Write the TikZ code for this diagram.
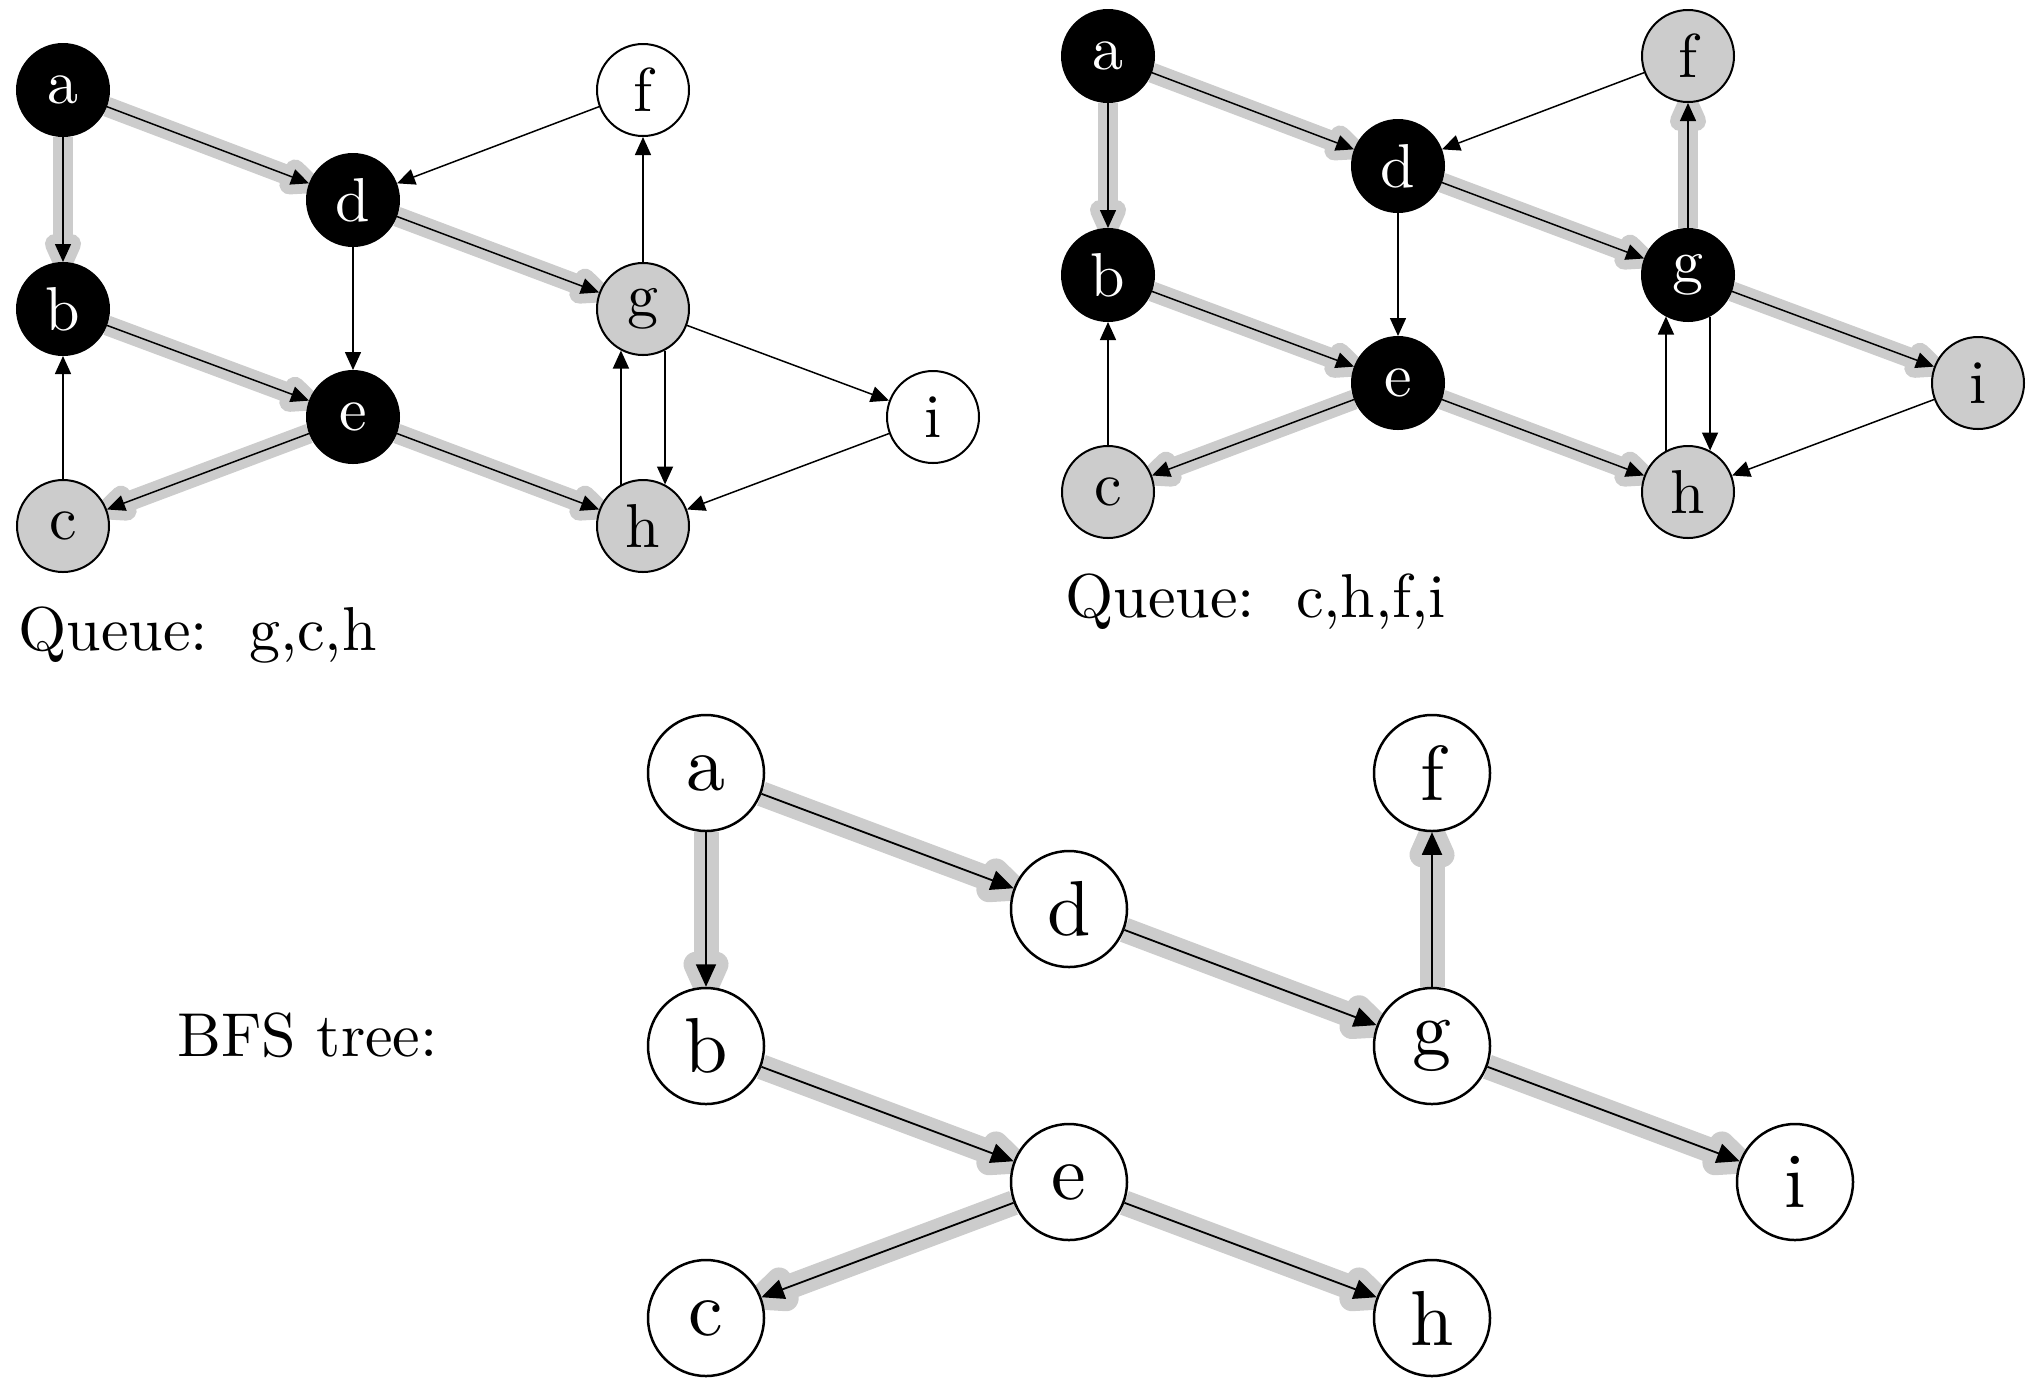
\documentclass[tikz,border=0pt]{standalone}
\usepackage{fontspec}
\setmainfont{lmroman10-regular}[Extension=.otf]
\usetikzlibrary{arrows.meta,decorations.markings}
\pgfdeclarelayer{bg}
\pgfsetlayers{bg,main}
\definecolor{hlgray}{RGB}{204,204,204}
\tikzset{
  vtx/.style={circle, draw, line width=1pt, inner sep=0pt, minimum size=46pt,
    font=\fontsize{31}{31}\selectfont},
  blk/.style={vtx, fill=black, text=white},
  gry/.style={vtx, fill=hlgray},
  wht/.style={vtx, fill=white},
  bigv/.style={line width=1.25pt, minimum size=58pt, font=\fontsize{39}{39}\selectfont},
  arr/.style={line width=0.75pt, -{Triangle[length=9pt,width=8pt]}},
  bigarr/.style={line width=0.9pt, -{Triangle[length=11.25pt,width=10pt]}},
  hl/.style={draw=hlgray, line width=10pt,
    postaction={decorate, decoration={markings, mark=at position 1 with {
      \filldraw[hlgray, line width=10pt, line join=round]
        (0,0) -- (-9pt,4pt) -- (-9pt,-4pt) -- cycle;}}}},
  bighl/.style={draw=hlgray, line width=12.5pt,
    postaction={decorate, decoration={markings, mark=at position 1 with {
      \filldraw[hlgray, line width=12.5pt, line join=round]
        (0,0) -- (-11.25pt,5pt) -- (-11.25pt,-5pt) -- cycle;}}}},
  lbl/.style={anchor=base west, inner sep=0pt, font=\fontsize{31}{31}\selectfont},
}
\begin{document}
\begin{tikzpicture}[x=0.5pt, y=-0.5pt]
\useasboundingbox (0,0) rectangle (2030,1378);

% ---- first snapshot ----
\node[blk] (a1) at (63,90)  {a};
\node[blk] (d1) at (353,200) {d};
\node[wht] (f1) at (643,90)  {f};
\node[blk] (b1) at (63,309) {b};
\node[blk] (e1) at (353,417) {e};
\node[gry] (g1) at (643,309) {g};
\node[wht] (i1) at (933,417) {i};
\node[gry] (c1) at (63,526) {c};
\node[gry] (h1) at (643,526) {h};
\node[lbl] (q1) at (18,650) {Queue:\ \ g,c,h};

\begin{pgfonlayer}{bg}
  \draw[hl] (a1) -- (d1);
  \draw[hl] (a1) -- (b1);
  \draw[hl] (d1) -- (g1);
  \draw[hl] (b1) -- (e1);
  \draw[hl] (e1) -- (c1);
  \draw[hl] (e1) -- (h1);
\end{pgfonlayer}
\draw[arr] (a1) -- (d1);
\draw[arr] (a1) -- (b1);
\draw[arr] (f1) -- (d1);
\draw[arr] (d1) -- (e1);
\draw[arr] (d1) -- (g1);
\draw[arr] (b1) -- (e1);
\draw[arr] (c1) -- (b1);
\draw[arr] (e1) -- (c1);
\draw[arr] (e1) -- (h1);
\draw[arr] (g1) -- (f1);
\draw[arr] (g1) -- (i1);
\draw[arr] (g1.-62) -- (h1.62);
\draw[arr] (h1.118) -- (g1.-118);
\draw[arr] (i1) -- (h1);

% ---- second snapshot ----
\node[blk] (a2) at (1108,56)  {a};
\node[blk] (d2) at (1398,166) {d};
\node[gry] (f2) at (1688,56)  {f};
\node[blk] (b2) at (1108,275) {b};
\node[blk] (e2) at (1398,383) {e};
\node[blk] (g2) at (1688,275) {g};
\node[gry] (i2) at (1978,383) {i};
\node[gry] (c2) at (1108,492) {c};
\node[gry] (h2) at (1688,492) {h};
\node[lbl] (q2) at (1065,617) {Queue:\ \ c,h,f,i};

\begin{pgfonlayer}{bg}
  \draw[hl] (a2) -- (d2);
  \draw[hl] (a2) -- (b2);
  \draw[hl] (d2) -- (g2);
  \draw[hl] (b2) -- (e2);
  \draw[hl] (e2) -- (c2);
  \draw[hl] (e2) -- (h2);
  \draw[hl] (g2) -- (f2);
  \draw[hl] (g2) -- (i2);
\end{pgfonlayer}
\draw[arr] (a2) -- (d2);
\draw[arr] (a2) -- (b2);
\draw[arr] (f2) -- (d2);
\draw[arr] (d2) -- (e2);
\draw[arr] (d2) -- (g2);
\draw[arr] (b2) -- (e2);
\draw[arr] (c2) -- (b2);
\draw[arr] (e2) -- (c2);
\draw[arr] (e2) -- (h2);
\draw[arr] (g2) -- (f2);
\draw[arr] (g2) -- (i2);
\draw[arr] (g2.-62) -- (h2.62);
\draw[arr] (h2.118) -- (g2.-118);
\draw[arr] (i2) -- (h2);

% ---- resulting tree ----
\node[wht,bigv] (a3) at (706,773)   {a};
\node[wht,bigv] (d3) at (1069,909)  {d};
\node[wht,bigv] (f3) at (1432,773)  {f};
\node[wht,bigv] (b3) at (706,1046)  {b};
\node[wht,bigv] (e3) at (1069,1182) {e};
\node[wht,bigv] (g3) at (1432,1046) {g};
\node[wht,bigv] (i3) at (1795,1182) {i};
\node[wht,bigv] (c3) at (706,1318)  {c};
\node[wht,bigv] (h3) at (1432,1318) {h};
\node[lbl] (t3) at (177,1056) {BFS tree:};

\begin{pgfonlayer}{bg}
  \draw[bighl] (a3) -- (d3);
  \draw[bighl] (a3) -- (b3);
  \draw[bighl] (d3) -- (g3);
  \draw[bighl] (b3) -- (e3);
  \draw[bighl] (e3) -- (c3);
  \draw[bighl] (e3) -- (h3);
  \draw[bighl] (g3) -- (f3);
  \draw[bighl] (g3) -- (i3);
\end{pgfonlayer}
\draw[bigarr] (a3) -- (d3);
\draw[bigarr] (a3) -- (b3);
\draw[bigarr] (d3) -- (g3);
\draw[bigarr] (b3) -- (e3);
\draw[bigarr] (e3) -- (c3);
\draw[bigarr] (e3) -- (h3);
\draw[bigarr] (g3) -- (f3);
\draw[bigarr] (g3) -- (i3);
\end{tikzpicture}
\end{document}
